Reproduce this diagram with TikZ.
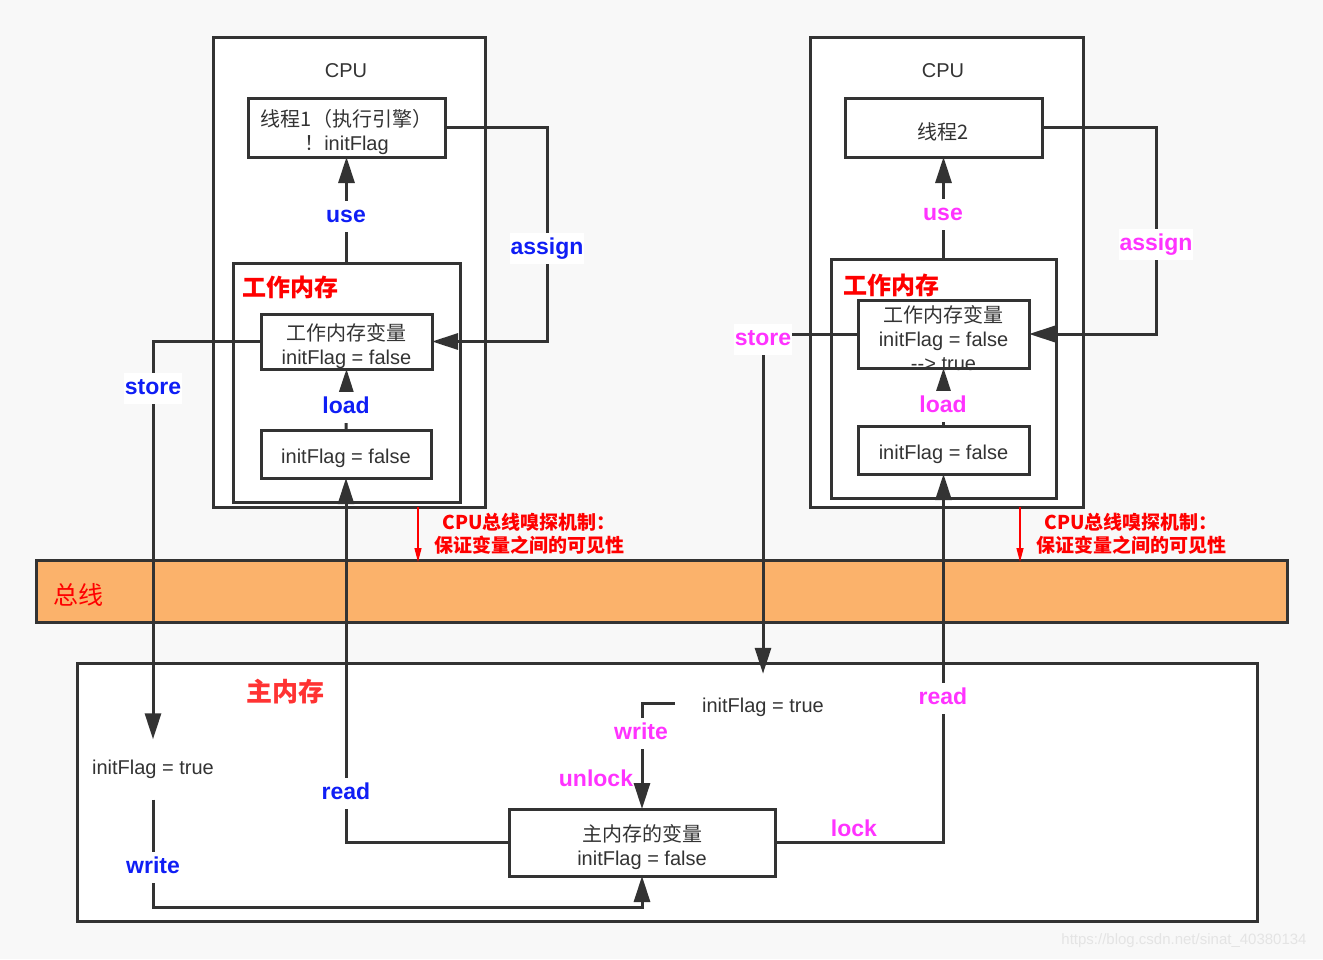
\documentclass[tikz,border=0pt]{standalone}
\usepackage{fontspec}
\setmainfont{Liberation Sans}
\newfontfamily\cjk{Noto Sans CJK SC}
\usetikzlibrary{arrows.meta}
\definecolor{dk}{HTML}{333333}
\definecolor{bgc}{HTML}{F8F8F8}
\definecolor{busor}{HTML}{FBB26B}
\definecolor{lblue}{HTML}{0F1EF5}
\definecolor{lmag}{HTML}{FF33FF}
\definecolor{lred}{HTML}{FF0000}
\definecolor{lredb}{HTML}{FF3333}
\definecolor{wmark}{HTML}{E4E4E4}
\begin{document}
\begin{tikzpicture}[x=1pt,y=-1pt,
  box/.style={draw=dk, line width=3pt, fill=white, outer sep=0pt, inner sep=0pt},
  btxt/.style={text=dk, align=center, font=\fontsize{20}{24}\selectfont, inner sep=0pt, yshift=-4.5pt},
  conn/.style={draw=dk, line width=3pt},
  arr/.style={conn, -{Triangle[length=26pt,width=16pt]}},
  redarr/.style={draw=lred, line width=1.3pt, -{Triangle[length=14pt,width=7pt]}},
  lbl/.style={fill=white, inner xsep=1pt, inner ysep=5pt, text height=16pt, text depth=5pt,
    yshift=-3.5pt, font=\fontsize{23}{26}\selectfont\bfseries},
  bl/.style={lbl, text=lblue},
  mg/.style={lbl, text=lmag},
  plain/.style={text=dk, font=\fontsize{20}{24}\selectfont, inner sep=0pt},
  title/.style={text=lred, font=\cjk\fontsize{24}{28}\selectfont\bfseries, anchor=west, inner sep=0pt},
  note/.style={text=lred, align=center, font=\cjk\fontsize{19}{23.5}\selectfont\bfseries, inner sep=0pt}
]
\useasboundingbox (0,0) rectangle (1323,959);
\fill[bgc] (0,0) rectangle (1323,959);

% ---- left CPU ----
\node[box, minimum width=272pt, minimum height=470pt] (cpuL) at (349,272) {};
\node[plain] (cpuLt) at (346,71) {CPU};
\node[box, minimum width=197pt, minimum height=59pt] (th1) at (346.5,127.5) {};
\node[btxt] (th1t) at (th1) {{\cjk 线程1（执行引擎）}\\{\cjk ！}initFlag};
\node[box, minimum width=227pt, minimum height=239pt] (wmL) at (346.5,382.5) {};
\node[title] (wmLt) at (242,287) {工作内存};
\node[box, minimum width=171pt, minimum height=55pt] (varL) at (346.5,341.5) {};
\node[btxt] (varLt) at (varL) {{\cjk 工作内存变量}\\initFlag = false};
\node[box, minimum width=170pt, minimum height=48pt] (lowL) at (346,454) {};
\node[btxt] (lowLt) at (lowL) {initFlag = false};

% ---- right CPU ----
\node[box, minimum width=273pt, minimum height=470pt] (cpuR) at (946.5,272) {};
\node[plain] (cpuRt) at (943,71) {CPU};
\node[box, minimum width=197pt, minimum height=59pt] (th2) at (943.5,127.5) {};
\node[btxt] (th2t) at (th2) {{\cjk 线程2}};
\node[box, minimum width=225pt, minimum height=239pt] (wmR) at (943.5,378.5) {};
\node[title] (wmRt) at (843,285) {工作内存};
\node[box, minimum width=171pt, minimum height=68pt] (varR) at (943.5,334) {};
\node[btxt] (varRt) at (varR) {{\cjk 工作内存变量}\\initFlag = false\\{-}{-}> true};
\node[box, minimum width=171pt, minimum height=48pt] (lowR) at (943.5,450) {};
\node[btxt] (lowRt) at (lowR) {initFlag = false};

% ---- bus ----
\node[box, fill=busor, minimum width=1251pt, minimum height=62pt] (bus) at (661.5,591) {};
\node[text=lred, font=\cjk\fontsize{25}{28}\selectfont, anchor=west, inner sep=0pt] (bust) at (53,595) {总线};

% ---- main memory ----
\node[box, minimum width=1180pt, minimum height=258pt] (mm) at (667,792) {};
\node[text=lredb, font=\cjk\fontsize{26}{30}\selectfont\bfseries, inner sep=0pt] (mmt) at (285,692) {主内存};
\node[box, minimum width=266pt, minimum height=67pt] (mvar) at (642,842.5) {};
\node[btxt] (mvart) at (mvar) {{\cjk 主内存的变量}\\initFlag = false};
\node[plain, minimum height=60pt] (tL) at (153,769.5) {initFlag = true};
\node[plain, minimum height=66pt, inner xsep=27pt] (tR) at (763,707) {initFlag = true};

% ---- coordinates for bends ----
\coordinate (aL) at (547,240);
\coordinate (aR) at (1156,240);
\coordinate (wL) at (153,907);
\coordinate (nL) at (418,562);
\coordinate (nR) at (1020,562);

% ---- connectors ----
\draw[arr] (wmL.north) -- (th1.south);
\draw[arr] (lowL.north) -- (varL.south);
\draw[arr] (th1.east) -| (aL) |- (varL.east);
\draw[arr] (varL.west) -| (tL.north);
\draw[arr] (mvar.west) -| (lowL.south);
\draw[arr] (tL.south) -- (wL) -| (mvar.south);

\draw[arr] (wmR.north) -- (th2.south);
\draw[arr] (lowR.north) -- (varR.south);
\draw[arr] (th2.east) -| (aR) |- (varR.east);
\draw[arr] (varR.west) -| (tR.north);
\draw[arr] ([yshift=4pt]tR.west) -| (mvar.north);
\draw[arr] (mvar.east) -| (lowR.south);

% ---- labels ----
\node[bl] (l1) at (346,213) {use};
\node[bl] (l2) at (547,245) {assign};
\node[bl] (l3) at (153,385) {store};
\node[bl] (l4) at (346,404) {load};
\node[bl] (l5) at (346,790) {read};
\node[bl] (l6) at (153,864) {write};

\node[mg] (r1) at (943,211) {use};
\node[mg] (r2) at (1156,241) {assign};
\node[mg] (r3) at (763,336) {store};
\node[mg] (r4) at (943,403) {load};
\node[mg] (r5) at (943,695) {read};
\node[mg] (r6) at (641,730) {write};
\node[mg, fill=none] (r7) at (596,777) {unlock};
\node[mg, fill=none] (r8) at (854,827) {lock};

% ---- snooping notes ----
\draw[redarr] (cpuL.south -| nL) -- (nL);
\draw[redarr] (cpuR.south -| nR) -- (nR);
\node[note] (nLt) at (529,534) {CPU总线嗅探机制：\\保证变量之间的可见性};
\node[note] (nRt) at (1131,534) {CPU总线嗅探机制：\\保证变量之间的可见性};

\node[text=wmark, font=\fontsize{15}{18}\selectfont, inner sep=0pt] (wm) at (1184,941) {https://blog.csdn.net/sinat\_40380134};
\end{tikzpicture}
\end{document}
